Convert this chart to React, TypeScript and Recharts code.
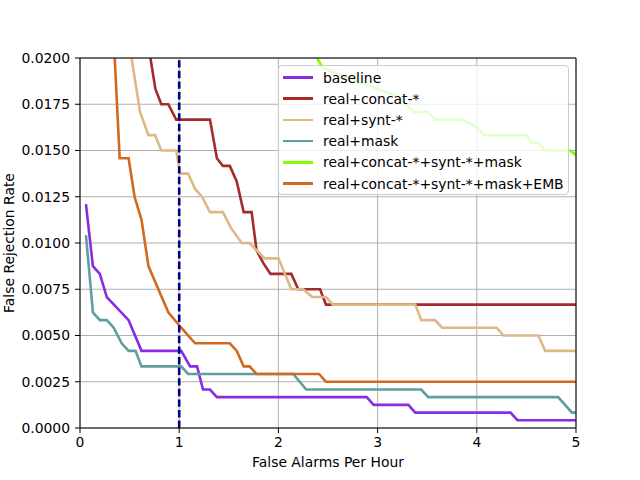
import React from 'react';
import {
  LineChart,
  Line,
  XAxis,
  YAxis,
  CartesianGrid,
  ReferenceLine,
} from 'recharts';

// false alarms per hour (x) and false rejection rate (y) per model
const baselineFa = [0.06, 0.13, 0.2, 0.27, 0.49, 0.62, 1.02, 1.11, 1.18, 1.24, 1.31, 1.38, 2.89, 2.96, 3.31, 3.38, 4.34, 4.41, 5.0];
const baselineFrr = [0.0121, 0.00875, 0.00833, 0.00708, 0.00583, 0.00417, 0.00417, 0.00333, 0.00333, 0.00208, 0.00208, 0.00167, 0.00167, 0.00125, 0.00125, 0.00083, 0.00083, 0.00042, 0.00042];

const concatFa = [0.71, 0.76, 0.82, 0.89, 0.97, 1.31, 1.38, 1.44, 1.51, 1.58, 1.65, 1.73, 1.78, 1.85, 1.92, 2.13, 2.2, 2.42, 2.48, 5.0];
const concatFrr = [0.02, 0.01833, 0.0175, 0.0175, 0.01667, 0.01667, 0.01458, 0.01417, 0.01417, 0.01333, 0.01167, 0.01167, 0.0096, 0.0089, 0.00833, 0.00833, 0.0075, 0.0075, 0.00667, 0.00667];

const syntFa = [0.52, 0.605, 0.69, 0.756, 0.82, 0.97, 1.01, 1.09, 1.16, 1.23, 1.31, 1.44, 1.52, 1.63, 1.71, 1.86, 2.0, 2.13, 2.25, 2.34, 2.48, 2.55, 3.38, 3.44, 3.58, 3.65, 4.2, 4.27, 4.62, 4.69, 5.0];
const syntFrr = [0.02, 0.01708, 0.01583, 0.01583, 0.015, 0.015, 0.01375, 0.01375, 0.01292, 0.0125, 0.01167, 0.01167, 0.01083, 0.01, 0.01, 0.00917, 0.00917, 0.0075, 0.0075, 0.00708, 0.00708, 0.00667, 0.00667, 0.00583, 0.00583, 0.00542, 0.00542, 0.005, 0.005, 0.00417, 0.00417];

const maskFa = [0.06, 0.13, 0.2, 0.27, 0.34, 0.42, 0.49, 0.56, 0.62, 1.02, 1.09, 2.15, 2.28, 3.44, 3.51, 4.82, 4.96, 5.0];
const maskFrr = [0.01042, 0.00625, 0.00583, 0.00583, 0.00542, 0.00458, 0.00417, 0.00417, 0.00333, 0.00333, 0.00292, 0.00292, 0.00208, 0.00208, 0.00167, 0.00167, 0.00083, 0.00083];

const allFa = [2.39, 2.45, 2.6, 2.8, 3.0, 3.2, 3.29, 3.36, 3.51, 3.58, 3.86, 4.0, 4.07, 4.5, 4.55, 4.62, 4.69, 4.94, 5.0];
const allFrr = [0.02, 0.01944, 0.01917, 0.01875, 0.01833, 0.01792, 0.0175, 0.01708, 0.01708, 0.01667, 0.01667, 0.01625, 0.01583, 0.01583, 0.01542, 0.01542, 0.015, 0.015, 0.01475];

const embFa = [0.35, 0.4, 0.49, 0.55, 0.62, 0.69, 0.79, 0.89, 1.02, 1.16, 1.51, 1.58, 1.65, 1.71, 1.78, 2.41, 2.48, 5.0];
const embFrr = [0.02, 0.01458, 0.01458, 0.0125, 0.01125, 0.00875, 0.0075, 0.00625, 0.00542, 0.00458, 0.00458, 0.00417, 0.00333, 0.00333, 0.00292, 0.00292, 0.0025, 0.0025];

const X_TICKS = [0, 1, 2, 3, 4, 5];
const Y_TICKS = [0, 0.0025, 0.005, 0.0075, 0.01, 0.0125, 0.015, 0.0175, 0.02];

const zip = (xs: number[], ys: number[]) => xs.map((x, i) => ({ x, y: ys[i] }));

const SERIES = [
  { name: 'baseline', color: '#8A2BE2', data: zip(baselineFa, baselineFrr) },
  { name: 'real+concat-*', color: '#A52A2A', data: zip(concatFa, concatFrr) },
  { name: 'real+synt-*', color: '#DEB887', data: zip(syntFa, syntFrr) },
  { name: 'real+mask', color: '#5F9EA0', data: zip(maskFa, maskFrr) },
  { name: 'real+concat-*+synt-*+mask', color: '#7FFF00', data: zip(allFa, allFrr) },
  { name: 'real+concat-*+synt-*+mask+EMB', color: '#D2691E', data: zip(embFa, embFrr) },
];

const FONT = '"DejaVu Sans", sans-serif';

function LegendBox() {
  return (
    <div
      style={{
        position: 'absolute',
        left: 278,
        top: 65,
        width: 291,
        height: 130,
        boxSizing: 'border-box',
        background: 'rgba(255,255,255,0.8)',
        border: '1px solid #cccccc',
        borderRadius: 4,
        paddingTop: 1,
        fontFamily: FONT,
        fontSize: 13.9,
        color: '#000',
      }}
    >
      {SERIES.map((s) => (
        <div key={s.name} style={{ display: 'flex', alignItems: 'center', height: 21.2 }}>
          <div style={{ width: 30, height: 2.6, background: s.color, marginLeft: 4, marginRight: 10 }} />
          <span style={{ whiteSpace: 'nowrap' }}>{s.name}</span>
        </div>
      ))}
    </div>
  );
}

export default function App() {
  return (
    <div style={{ position: 'absolute', left: 0, top: 0, width: 640, height: 480, background: '#fff' }}>
      <LineChart width={640} height={480} margin={{ top: 58, right: 64, left: 0, bottom: 0 }}>
        <CartesianGrid stroke="#b0b0b0" strokeWidth={1} horizontalValues={Y_TICKS} verticalValues={X_TICKS} />
        <XAxis
          type="number"
          dataKey="x"
          domain={[0, 5]}
          ticks={X_TICKS}
          allowDataOverflow
          height={52}
          tickSize={5}
          tickMargin={4}
          stroke="#000"
          tick={{ fill: '#000', fontSize: 13.9, fontFamily: FONT }}
          label={{
            content: () => (
              <text x={328} y={467} textAnchor="middle" fontSize={13.9} fontFamily={FONT} fill="#000">
                False Alarms Per Hour
              </text>
            ),
          }}
        />
        <YAxis
          type="number"
          dataKey="y"
          domain={[0, 0.02]}
          ticks={Y_TICKS}
          allowDataOverflow
          width={80}
          tickSize={5}
          tickMargin={5}
          stroke="#000"
          tickFormatter={(v: number) => v.toFixed(4)}
          tick={{ fill: '#000', fontSize: 13.9, fontFamily: FONT }}
          label={{
            content: () => (
              <text
                x={10}
                y={243}
                textAnchor="middle"
                fontSize={13.9}
                fontFamily={FONT}
                fill="#000"
                transform="rotate(-90 10 243)"
                dominantBaseline="middle"
              >
                False Rejection Rate
              </text>
            ),
          }}
        />
        {SERIES.map((s) => (
          <Line
            key={s.name}
            data={s.data}
            dataKey="y"
            name={s.name}
            type="linear"
            stroke={s.color}
            strokeWidth={2.6}
            dot={false}
            activeDot={false}
            isAnimationActive={false}
          />
        ))}
        <ReferenceLine x={1} stroke="#000080" strokeWidth={2.6} strokeDasharray="7.4 3.2" />
        <ReferenceLine y={0.02} stroke="#000" strokeWidth={1} />
        <ReferenceLine x={5} stroke="#000" strokeWidth={1} />
      </LineChart>
      <LegendBox />
    </div>
  );
}
